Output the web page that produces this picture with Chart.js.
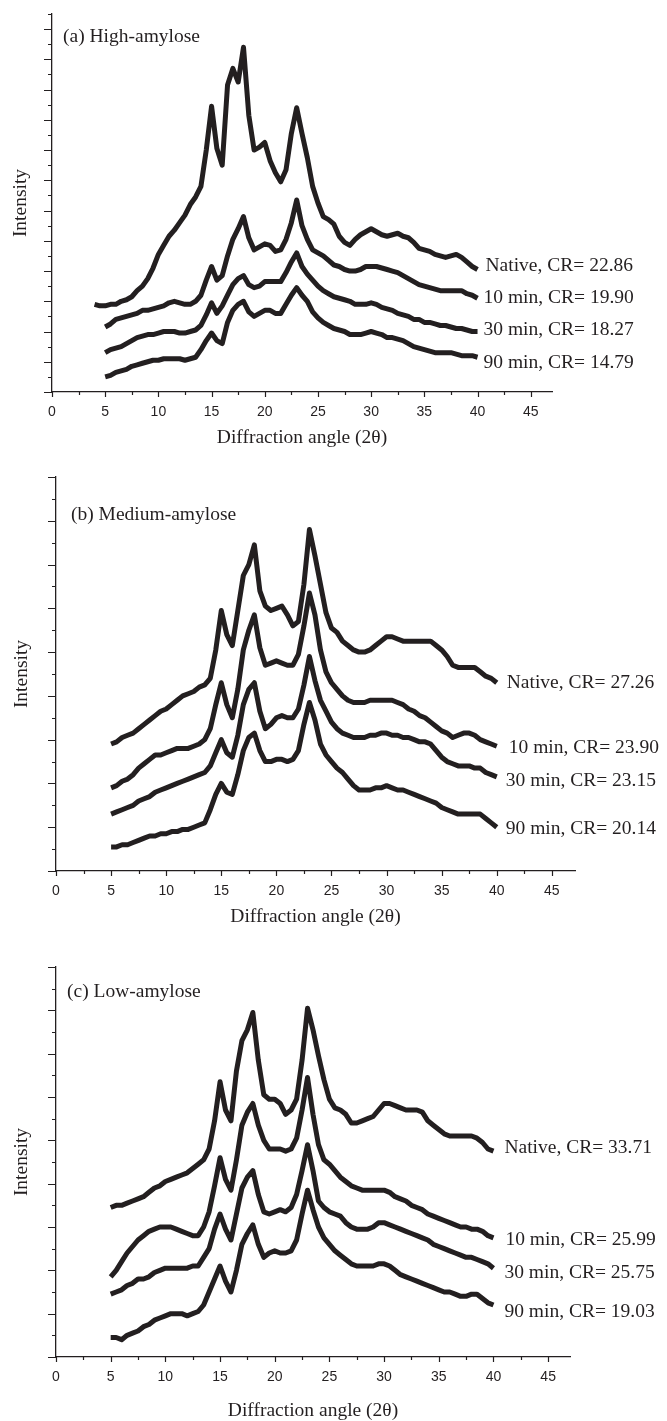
<!DOCTYPE html>
<html>
<head>
<meta charset="utf-8">
<script src="https://cdn.jsdelivr.net/npm/chart.js@4.4.1/dist/chart.umd.min.js"></script>
<style>
  html, body { margin: 0; padding: 0; background: #fff; }
  body { width: 667px; height: 1421px; position: relative; overflow: hidden; }
  canvas { position: absolute; left: 0; }
</style>
</head>
<body>
<canvas id="panelA" width="667" height="450" style="top:0px"></canvas>
<canvas id="panelB" width="667" height="470" style="top:460px"></canvas>
<canvas id="panelC" width="667" height="476" style="top:945px"></canvas>
<script>
// diffraction angle (2θ) sampling points
const angleA = [4, 4.5, 5, 5.5, 6, 6.5, 7, 7.5, 8, 8.5, 9, 9.5, 10, 10.5, 11, 11.5, 12, 12.5, 13, 13.5,
  14, 14.5, 15, 15.5, 16, 16.5, 17, 17.5, 18, 18.5, 19, 19.5, 20, 20.5, 21, 21.5, 22, 22.5, 23, 23.5,
  24, 24.5, 25, 25.5, 26, 26.5, 27, 27.5, 28, 28.5, 29, 29.5, 30, 30.5, 31, 31.5, 32, 32.5, 33, 33.5,
  34, 34.5, 35, 35.5, 36, 36.5, 37, 37.5, 38, 38.5, 39, 39.5, 40];
const angleBC = [5, 5.5, 6, 6.5, 7, 7.5, 8, 8.5, 9, 9.5, 10, 10.5, 11, 11.5, 12, 12.5, 13, 13.5,
  14, 14.5, 15, 15.5, 16, 16.5, 17, 17.5, 18, 18.5, 19, 19.5, 20, 20.5, 21, 21.5, 22, 22.5, 23, 23.5,
  24, 24.5, 25, 25.5, 26, 26.5, 27, 27.5, 28, 28.5, 29, 29.5, 30, 30.5, 31, 31.5, 32, 32.5, 33, 33.5,
  34, 34.5, 35, 35.5, 36, 36.5, 37, 37.5, 38, 38.5, 39, 39.5, 40];

// (a) high-amylose, intensity in axis tick units (stacked traces)
const nativeA = [5.8, 5.7, 5.7, 5.8, 5.8, 6.0, 6.1, 6.3, 6.7, 7.0, 7.5, 8.2, 9.1, 9.7, 10.3, 10.7, 11.2, 11.7, 12.4, 12.9,
  13.6, 16.0, 18.9, 16.1, 15.0, 20.3, 21.4, 20.5, 22.8, 18.3, 16.0, 16.2, 16.5, 15.3, 14.5, 13.9, 14.7, 17.1, 18.8, 17.1,
  15.5, 13.6, 12.5, 11.6, 11.4, 11.1, 10.3, 9.9, 9.7, 10.1, 10.4, 10.6, 10.8, 10.6, 10.4, 10.3, 10.4, 10.5, 10.3, 10.2,
  9.9, 9.5, 9.4, 9.3, 9.1, 9.0, 8.9, 9.0, 9.1, 8.9, 8.6, 8.3, 8.1];
const min10A = [null, null, 4.3, 4.5, 4.8, 4.9, 5.0, 5.1, 5.2, 5.4, 5.4, 5.5, 5.6, 5.7, 5.9, 6.0, 5.9, 5.8, 5.8, 6.0,
  6.4, 7.4, 8.3, 7.4, 7.7, 9.0, 10.1, 10.8, 11.6, 10.2, 9.4, 9.6, 9.8, 9.7, 9.3, 9.4, 10.1, 11.2, 12.7, 11.0,
  10.1, 9.4, 9.2, 9.0, 8.7, 8.4, 8.3, 8.1, 8.0, 8.0, 8.1, 8.3, 8.3, 8.3, 8.2, 8.1, 8.0, 7.9, 7.7, 7.5,
  7.3, 7.1, 7.0, 6.9, 6.8, 6.7, 6.7, 6.7, 6.7, 6.7, 6.5, 6.4, 6.2];
const min30A = [null, null, 2.6, 2.8, 2.9, 3.0, 3.2, 3.4, 3.6, 3.7, 3.8, 3.8, 3.9, 4.0, 4.0, 4.0, 3.9, 3.9, 4.0, 4.1,
  4.4, 5.1, 5.9, 5.2, 5.7, 6.4, 7.1, 7.5, 7.7, 7.1, 6.9, 7.0, 7.3, 7.3, 7.3, 7.3, 7.9, 8.6, 9.2, 8.3,
  7.8, 7.4, 7.0, 6.7, 6.5, 6.3, 6.2, 6.1, 6.0, 5.8, 5.8, 5.8, 5.9, 5.8, 5.6, 5.5, 5.4, 5.2, 5.1, 5.0,
  4.8, 4.8, 4.6, 4.6, 4.5, 4.4, 4.4, 4.3, 4.2, 4.2, 4.1, 4.0, 4.0];
const min90A = [null, null, 1.0, 1.1, 1.3, 1.4, 1.5, 1.7, 1.8, 1.9, 2.0, 2.1, 2.1, 2.2, 2.2, 2.2, 2.2, 2.1, 2.2, 2.3,
  2.8, 3.4, 3.9, 3.4, 3.2, 4.6, 5.4, 5.8, 6.0, 5.3, 5.0, 5.2, 5.4, 5.4, 5.2, 5.2, 5.8, 6.4, 6.9, 6.4,
  6.0, 5.3, 4.9, 4.6, 4.4, 4.2, 4.1, 4.0, 3.8, 3.8, 3.8, 3.9, 4.0, 3.9, 3.8, 3.6, 3.6, 3.5, 3.4, 3.2,
  3.0, 2.9, 2.8, 2.7, 2.6, 2.6, 2.6, 2.6, 2.5, 2.4, 2.4, 2.4, 2.3];
const labelsA = ['Native, CR= 22.86', '10 min, CR= 19.90', '30 min, CR= 18.27', '90 min, CR= 14.79'];

// (b) medium-amylose
const nativeB = [5.8, 5.9, 6.1, 6.2, 6.3, 6.5, 6.7, 6.9, 7.1, 7.3, 7.4, 7.6, 7.8, 8.0, 8.1, 8.2, 8.4, 8.5,
  8.8, 10.1, 11.9, 10.8, 10.3, 11.9, 13.5, 14.0, 14.9, 12.8, 12.1, 11.9, 12.0, 12.1, 11.7, 11.2, 11.4, 13.1, 15.6, 14.4,
  13.1, 11.8, 11.1, 10.9, 10.5, 10.3, 10.1, 10.0, 10.0, 10.1, 10.3, 10.5, 10.7, 10.7, 10.6, 10.5, 10.5, 10.5, 10.5, 10.5,
  10.5, 10.3, 10.1, 9.8, 9.4, 9.3, 9.3, 9.3, 9.3, 9.1, 8.9, 8.8, 8.6];
const min10B = [3.8, 3.9, 4.1, 4.2, 4.4, 4.7, 4.9, 5.1, 5.3, 5.3, 5.4, 5.5, 5.6, 5.6, 5.6, 5.7, 5.8, 6.0,
  6.5, 7.6, 8.6, 7.6, 7.0, 8.3, 10.1, 11.0, 11.7, 10.2, 9.4, 9.5, 9.6, 9.5, 9.4, 9.4, 9.9, 11.2, 12.7, 11.7,
  10.1, 9.1, 8.6, 8.3, 8.0, 7.8, 7.7, 7.7, 7.7, 7.8, 7.8, 7.8, 7.8, 7.8, 7.7, 7.6, 7.4, 7.3, 7.1, 7.0,
  6.8, 6.6, 6.4, 6.3, 6.1, 6.2, 6.3, 6.3, 6.2, 6.0, 5.9, 5.8, 5.7];
const min30B = [2.6, 2.7, 2.8, 2.9, 3.0, 3.2, 3.3, 3.4, 3.6, 3.7, 3.8, 3.9, 4.0, 4.1, 4.2, 4.3, 4.4, 4.5,
  4.8, 5.4, 6.0, 5.4, 5.2, 6.2, 7.6, 8.3, 8.6, 7.3, 6.5, 6.7, 7.0, 7.1, 7.0, 7.0, 7.4, 8.5, 9.8, 8.7,
  7.8, 7.3, 6.8, 6.5, 6.3, 6.2, 6.1, 6.1, 6.1, 6.2, 6.2, 6.3, 6.3, 6.2, 6.2, 6.1, 6.1, 6.0, 5.9, 5.9,
  5.8, 5.5, 5.2, 5.0, 4.9, 4.8, 4.8, 4.8, 4.7, 4.7, 4.5, 4.4, 4.3];
const min90B = [1.1, 1.1, 1.2, 1.2, 1.3, 1.4, 1.5, 1.6, 1.6, 1.7, 1.7, 1.8, 1.8, 1.9, 1.9, 2.0, 2.1, 2.2,
  2.8, 3.5, 4.0, 3.6, 3.5, 4.4, 5.5, 6.1, 6.3, 5.5, 5.0, 5.0, 5.1, 5.1, 5.0, 5.1, 5.5, 6.7, 7.7, 6.9,
  5.8, 5.3, 5.0, 4.7, 4.5, 4.2, 3.9, 3.7, 3.7, 3.7, 3.8, 3.8, 3.9, 3.8, 3.7, 3.7, 3.6, 3.5, 3.4, 3.3,
  3.2, 3.1, 2.9, 2.8, 2.7, 2.6, 2.6, 2.6, 2.6, 2.6, 2.4, 2.2, 2.0];
const labelsB = ['Native, CR= 27.26', '10 min, CR= 23.90', '30 min, CR= 23.15', '90 min, CR= 20.14'];

// (c) low-amylose
const nativeC = [6.9, 7.0, 7.0, 7.1, 7.2, 7.3, 7.4, 7.6, 7.8, 7.9, 8.1, 8.2, 8.3, 8.4, 8.5, 8.7, 8.9, 9.1,
  9.6, 10.9, 12.7, 11.4, 10.9, 13.2, 14.6, 15.1, 15.9, 13.7, 12.1, 11.9, 11.9, 11.7, 11.2, 11.4, 11.9, 13.7, 16.1, 15.1,
  13.9, 12.8, 11.9, 11.5, 11.4, 11.2, 10.8, 10.8, 10.9, 11.0, 11.1, 11.4, 11.7, 11.7, 11.6, 11.5, 11.4, 11.4, 11.4, 11.3,
  10.9, 10.7, 10.5, 10.3, 10.2, 10.2, 10.2, 10.2, 10.2, 10.1, 9.9, 9.6, 9.5];
const min10C = [3.7, 4.0, 4.4, 4.8, 5.1, 5.4, 5.6, 5.8, 5.9, 6.0, 6.0, 6.0, 5.9, 5.8, 5.7, 5.6, 5.6, 6.0,
  6.7, 7.9, 9.2, 8.2, 7.7, 9.1, 10.7, 11.3, 11.7, 10.7, 10.0, 9.6, 9.6, 9.6, 9.5, 9.6, 10.1, 11.4, 12.9, 11.2,
  9.8, 9.1, 8.9, 8.6, 8.3, 8.1, 7.9, 7.8, 7.7, 7.7, 7.7, 7.7, 7.7, 7.6, 7.4, 7.3, 7.2, 7.0, 6.9, 6.8,
  6.6, 6.5, 6.4, 6.3, 6.2, 6.1, 6.0, 6.0, 5.9, 5.9, 5.8, 5.6, 5.5];
const min30C = [2.9, 3.0, 3.1, 3.3, 3.4, 3.6, 3.6, 3.7, 3.9, 4.0, 4.1, 4.1, 4.1, 4.1, 4.1, 4.2, 4.2, 4.6,
  5.0, 5.9, 6.6, 5.9, 5.4, 6.6, 7.8, 8.3, 8.6, 7.5, 6.7, 6.6, 6.7, 6.8, 6.7, 6.9, 7.5, 8.6, 9.8, 8.6,
  7.2, 6.9, 6.7, 6.6, 6.5, 6.2, 6.0, 5.9, 5.9, 5.9, 6.0, 6.2, 6.2, 6.1, 6.0, 5.9, 5.8, 5.7, 5.6, 5.5,
  5.4, 5.2, 5.1, 5.0, 4.9, 4.8, 4.7, 4.6, 4.6, 4.5, 4.4, 4.3, 4.1];
const min90C = [0.9, 0.9, 0.8, 1.0, 1.1, 1.2, 1.4, 1.5, 1.7, 1.8, 1.9, 2.0, 2.0, 2.0, 1.9, 2.0, 2.1, 2.4,
  3.0, 3.6, 4.2, 3.5, 3.0, 4.0, 5.2, 5.7, 6.1, 5.2, 4.6, 4.8, 4.9, 4.8, 4.8, 4.9, 5.4, 6.6, 7.7, 6.8,
  6.0, 5.5, 5.2, 4.9, 4.7, 4.5, 4.3, 4.2, 4.2, 4.2, 4.2, 4.3, 4.3, 4.2, 4.0, 3.8, 3.7, 3.6, 3.5, 3.4,
  3.3, 3.2, 3.1, 3.0, 3.0, 2.9, 2.8, 2.8, 2.9, 2.9, 2.7, 2.5, 2.4];
const labelsC = ['Native, CR= 33.71', '10 min, CR= 25.99', '30 min, CR= 25.75', '90 min, CR= 19.03'];

const INK = '#231f20';
const SERIF = '"Liberation Serif", "Times New Roman", serif';

// minor + major tick marks drawn on the library's own scales
const tickMarks = {
  id: 'tickMarks',
  afterDraw(chart) {
    const {ctx, chartArea: a, scales: {x, y}} = chart;
    ctx.save();
    ctx.strokeStyle = INK;
    ctx.lineWidth = 1.2;
    ctx.beginPath();
    x.ticks.forEach(t => {
      const px = Math.round(x.getPixelForValue(t.value)) + 0.5;
      ctx.moveTo(px, a.bottom);
      ctx.lineTo(px, a.bottom + 5);
      const mid = t.value + 2.5;
      if (mid < x.max) {
        const pm = Math.round(x.getPixelForValue(mid)) + 0.5;
        ctx.moveTo(pm, a.bottom);
        ctx.lineTo(pm, a.bottom + 3);
      }
    });
    y.ticks.forEach(t => {
      const py = Math.round(y.getPixelForValue(t.value)) + 0.5;
      const len = t.value % 2 === 0 ? 8 : 4;
      ctx.moveTo(a.left - len, py);
      ctx.lineTo(a.left, py);
    });
    ctx.stroke();
    ctx.restore();
  }
};

// curve captions at the end of each trace + panel name
const seriesNotes = {
  id: 'seriesNotes',
  afterDatasetsDraw(chart, args, opts) {
    const {ctx, chartArea: a} = chart;
    ctx.save();
    ctx.font = '19.5px ' + SERIF;
    ctx.fillStyle = INK;
    ctx.textBaseline = 'middle';
    ctx.textAlign = 'left';
    chart.data.datasets.forEach((ds, i) => {
      const pts = chart.getDatasetMeta(i).data;
      const end = pts[pts.length - 1];
      const [dx, dy] = opts.shift[i];
      ctx.fillText(ds.label, end.x + dx, end.y + dy);
    });
    ctx.fillText(opts.name, a.left + opts.nameAt[0], a.top + opts.nameAt[1]);
    ctx.restore();
  }
};

const panels = [
  {id: 'panelA', top: 0, height: 450, area: {left: 52, right: 552, top: 14, bottom: 392},
   xMax: 47, yMax: 25, angles: angleA, series: [nativeA, min10A, min30A, min90A], labels: labelsA,
   name: '(a) High-amylose', nameAt: [11, 23], yTitleX: 21, xTitleY: 438,
   shift: [[8, -4], [6, 0], [6, -2], [6, 6]]},
  {id: 'panelB', top: 460, height: 470, area: {left: 56, right: 575, top: 477, bottom: 871},
   xMax: 47.1, yMax: 18, angles: angleBC, series: [nativeB, min10B, min30B, min90B], labels: labelsB,
   name: '(b) Medium-amylose', nameAt: [15, 38], yTitleX: 22, xTitleY: 917,
   shift: [[10, 0], [12, 2], [9, 4], [9, 2]]},
  {id: 'panelC', top: 945, height: 476, area: {left: 56, right: 570, top: 967, bottom: 1357},
   xMax: 47, yMax: 18, angles: angleBC, series: [nativeC, min10C, min30C, min90C], labels: labelsC,
   name: '(c) Low-amylose', nameAt: [11, 25], yTitleX: 22, xTitleY: 1411,
   shift: [[11, -3], [12, 2], [11, 5], [11, 7]]}
];

panels.forEach(p => {
  const areaBottom = p.area.bottom - p.top;
  const xAxisH = p.height - areaBottom;
  const datasets = p.series.map((s, i) => ({
    label: p.labels[i],
    data: p.angles.map((a, j) => ({x: a, y: s[j]})),
    borderColor: INK,
    borderWidth: 5,
    borderJoinStyle: 'round',
    borderCapStyle: 'butt',
    pointRadius: 0,
    tension: 0,
    fill: false,
    spanGaps: false
  }));

  new Chart(document.getElementById(p.id), {
    type: 'line',
    data: {datasets},
    options: {
      responsive: false,
      animation: false,
      devicePixelRatio: 1,
      layout: {padding: {left: 0, top: p.area.top - p.top, right: 667 - p.area.right, bottom: 0}},
      plugins: {
        legend: {display: false},
        tooltip: {enabled: false},
        seriesNotes: {name: p.name, nameAt: p.nameAt, shift: p.shift}
      },
      scales: {
        x: {
          type: 'linear',
          min: 0,
          max: p.xMax,
          afterFit: s => { s.height = xAxisH; },
          grid: {display: false, drawTicks: false},
          border: {display: true, color: INK, width: 1.3},
          ticks: {stepSize: 5, includeBounds: false, padding: 12, color: INK, maxRotation: 0,
                  font: {family: '"Liberation Sans", Arial, sans-serif', size: 14}},
          title: {display: true, text: 'Diffraction angle (2θ)', color: INK,
                  font: {family: SERIF, size: 19.5, lineHeight: 1},
                  padding: {top: 0, bottom: Math.max(0, p.top + p.height - p.xTitleY - 9.75)}}
        },
        y: {
          type: 'linear',
          min: 0,
          max: p.yMax,
          afterFit: s => { s.width = p.area.left; },
          grid: {display: false, drawTicks: false},
          border: {display: true, color: INK, width: 1.3},
          ticks: {display: false, stepSize: 1},
          title: {display: true, text: 'Intensity', color: INK,
                  font: {family: SERIF, size: 19.5, lineHeight: 1},
                  padding: {top: p.yTitleX - 9.75, bottom: 0}}
        }
      }
    },
    plugins: [tickMarks, seriesNotes]
  });
});
</script>
</body>
</html>
